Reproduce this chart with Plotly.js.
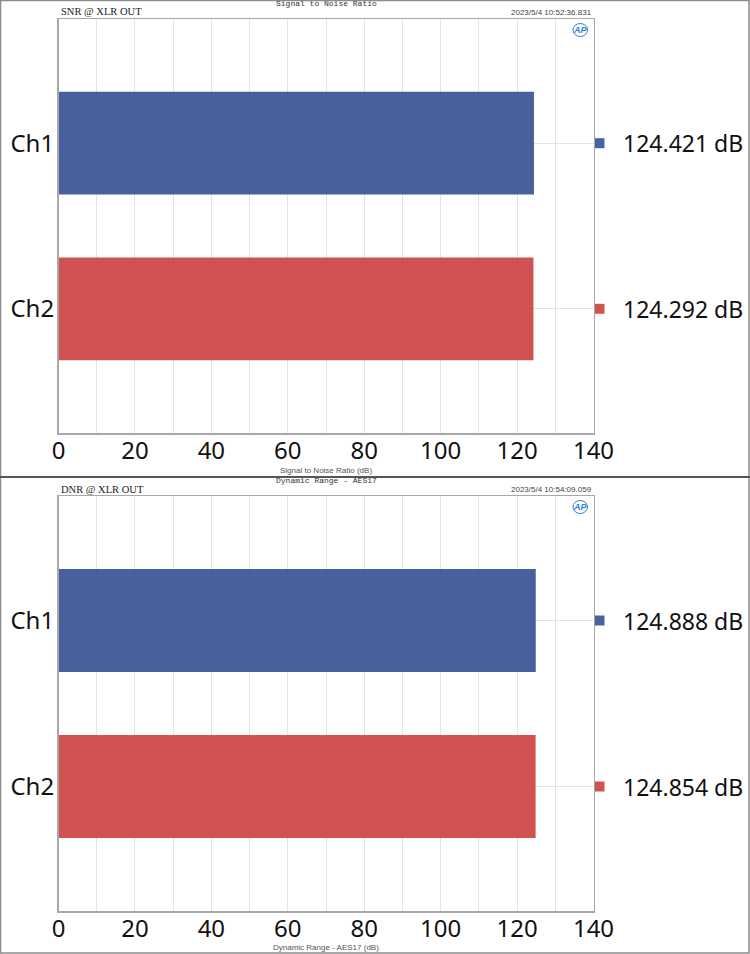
<!DOCTYPE html>
<html>
<head>
<meta charset="utf-8">
<script src="https://cdn.plot.ly/plotly-3.0.1.min.js"></script>
<style>html,body{margin:0;padding:0;background:#fff;}#chart{width:750px;height:954px;}</style>
</head>
<body>
<div id="chart"></div>
<script>
// ---- data ----
var channels = ['Ch1', 'Ch2'];
var snrValues = [124.421, 124.292];
var dnrValues = [124.888, 124.854];
var xTickVals = [0, 20, 40, 60, 80, 100, 120, 140];
var topTitle = 'Signal to Noise Ratio';
var topSubtitle = 'SNR @ XLR OUT';
var topStamp = '2023/5/4 10:52:36.831';
var topAxisTitle = 'Signal to Noise Ratio (dB)';
var botTitle = 'Dynamic Range - AES17';
var botSubtitle = 'DNR @ XLR OUT';
var botStamp = '2023/5/4 10:54:09.059';
var botAxisTitle = 'Dynamic Range - AES17 (dB)';

// ---- style ----
var W = 750, H = 954;
var barColors = ['rgba(52,80,148,0.9)', 'rgba(204,64,62,0.9)'];
var swatchColors = ['#48629f', '#d1534f'];
var gridColor = '#e4e4e4';
var frameColor = '#a8a8a8';
var bigFont = 'Noto Sans, Open Sans, sans-serif';
function px(x) { return x / W; }
function py(y) { return 1 - y / H; }
var xDom = [px(58.5), px(593.5)];

function xaxis(anchor) {
  return {
    domain: xDom, anchor: anchor, range: [0, 140],
    tickvals: xTickVals, ticks: '', showgrid: true, gridcolor: gridColor, gridwidth: 1,
    minor: { dtick: 10, showgrid: true, gridcolor: gridColor, gridwidth: 1 },
    showline: true, mirror: true, linecolor: frameColor, linewidth: 1.5,
    zeroline: false, tickfont: { family: bigFont, size: 24, color: '#111' }, ticklabelstandoff: -4
  };
}
function yaxis(anchor, dom) {
  return {
    domain: dom, anchor: anchor, type: 'category', range: [1.75, -0.75],
    showgrid: true, gridcolor: gridColor, ticks: '',
    showline: true, mirror: true, linecolor: frameColor, linewidth: 1.5,
    tickfont: { family: bigFont, size: 24, color: '#111' }, ticklabelstandoff: -2
  };
}

var traces = [
  { type: 'bar', orientation: 'h', x: snrValues, y: channels, xaxis: 'x', yaxis: 'y',
    marker: { color: barColors, line: { width: 0 } }, width: 0.62, hoverinfo: 'x+y' },
  { type: 'bar', orientation: 'h', x: dnrValues, y: channels, xaxis: 'x2', yaxis: 'y2',
    marker: { color: barColors, line: { width: 0 } }, width: 0.62, hoverinfo: 'x+y' }
];

var annotations = [];
var shapes = [];

function panel(yOff, yref, values, title, sub, stamp, axTitle) {
  // small texts
  annotations.push({ xref: 'paper', yref: 'paper', x: px(326), y: py(yOff + 4), text: title, showarrow: false,
    xanchor: 'center', yanchor: 'middle', font: { family: 'Liberation Mono, monospace', size: 8, color: '#333' } });
  annotations.push({ xref: 'paper', yref: 'paper', x: px(59), y: py(yOff + 12), text: sub, showarrow: false,
    xanchor: 'left', yanchor: 'middle', font: { family: 'Liberation Serif, serif', size: 10.5, color: '#222' } });
  annotations.push({ xref: 'paper', yref: 'paper', x: px(594), y: py(yOff + 13), text: stamp, showarrow: false,
    xanchor: 'right', yanchor: 'middle', font: { family: 'Liberation Sans Narrow, Liberation Sans, sans-serif', size: 8, color: '#444' } });
  annotations.push({ xref: 'paper', yref: 'paper', x: px(326), y: py(yOff + 470), text: axTitle, showarrow: false,
    xanchor: 'center', yanchor: 'middle', font: { family: 'Liberation Sans Narrow, Liberation Sans, sans-serif', size: 8, color: '#555' } });
  // AP logo
  annotations.push({ xref: 'paper', yref: 'paper', x: px(580), y: py(yOff + 30), text: '<b><i>AP</i></b>', showarrow: false,
    xanchor: 'center', yanchor: 'middle', font: { family: 'Liberation Sans, sans-serif', size: 9, color: '#2f7fd6' } });
  shapes.push({ type: 'circle', xref: 'paper', yref: 'paper', x0: px(573), x1: px(587.5), y0: py(yOff + 36.5), y1: py(yOff + 23.5),
    line: { color: '#2f7fd6', width: 1 } });
  // value labels + swatches
  for (var i = 0; i < channels.length; i++) {
    annotations.push({ xref: 'paper', yref: yref, x: px(621), y: channels[i], text: values[i].toFixed(3) + ' dB',
      showarrow: false, xanchor: 'left', yanchor: 'middle', font: { family: bigFont, size: 23, color: '#111' } });
    shapes.push({ type: 'rect', xref: 'paper', yref: yref, x0: px(595), x1: px(604.5),
      ysizemode: 'pixel', yanchor: channels[i], y0: -5, y1: 5,
      fillcolor: swatchColors[i], line: { width: 0 } });
  }
}
panel(0, 'y', snrValues, topTitle, topSubtitle, topStamp, topAxisTitle);
panel(477, 'y2', dnrValues, botTitle, botSubtitle, botStamp, botAxisTitle);

// outer frame and separator
shapes.push({ type: 'rect', xref: 'paper', yref: 'paper', x0: px(0.5), x1: px(749), y0: py(953), y1: py(0.5),
  line: { color: '#8c8c8c', width: 1.5 } });
shapes.push({ type: 'line', xref: 'paper', yref: 'paper', x0: 0, x1: 1, y0: py(477), y1: py(477),
  line: { color: '#555', width: 2 } });

var layout = {
  width: W, height: H, margin: { l: 0, r: 0, t: 0, b: 0 },
  paper_bgcolor: '#fff', plot_bgcolor: '#fff', showlegend: false, bargap: 0.38,
  xaxis: xaxis('y'), yaxis: yaxis('x', [py(433), py(19)]),
  xaxis2: xaxis('y2'), yaxis2: yaxis('x2', [py(911), py(496)]),
  annotations: annotations, shapes: shapes
};
Plotly.newPlot('chart', traces, layout, { displayModeBar: false, staticPlot: true });
</script>
</body>
</html>
